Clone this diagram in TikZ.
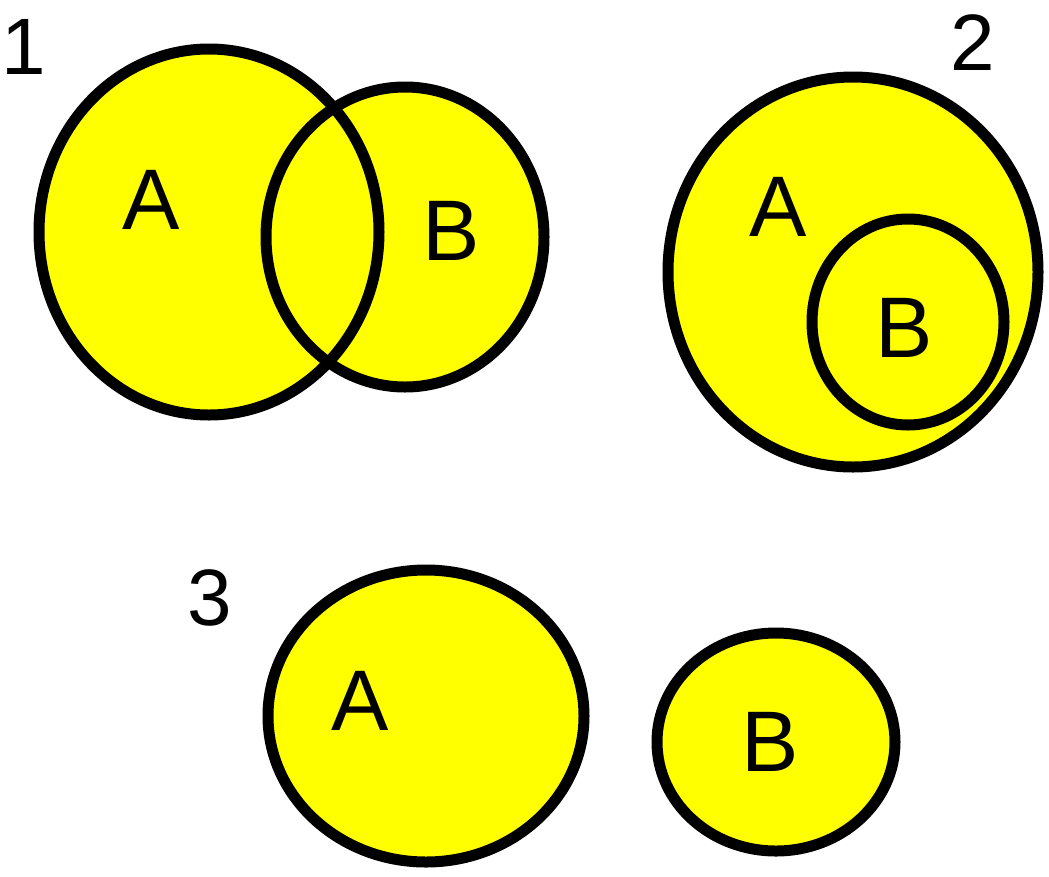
\documentclass[tikz,border=0pt]{standalone}
\usepackage{fontspec}
\setmainfont{Liberation Sans}
\begin{document}
\begin{tikzpicture}[x=1pt,y=-1pt,
  setfill/.style={fill={rgb,255:red,255;green,255;blue,0}},
  setline/.style={draw=black,line width=11pt},
  lbl/.style={inner sep=0pt,font=\fontsize{86}{86}\selectfont},
  num/.style={inner sep=0pt,font=\fontsize{80}{80}\selectfont}]
\useasboundingbox[fill=white] (0,0) rectangle (1049,876);
% Diagram 1
\fill[setfill] (209,232) ellipse [x radius=170, y radius=183];
\fill[setfill] (405,237) ellipse [x radius=139, y radius=150];
\draw[setline] (209,232) ellipse [x radius=170, y radius=183];
\draw[setline] (405,237) ellipse [x radius=139, y radius=150];
\node[num] (n1) at (24,47) {1};
\node[lbl] (a1) at (151,200) {A};
\node[lbl] (b1) at (451,231) {B};
% Diagram 2
\fill[setfill] (853,272) ellipse [x radius=185, y radius=195];
\draw[setline] (853,272) ellipse [x radius=185, y radius=195];
\fill[setfill] (908,322) ellipse [x radius=96, y radius=103];
\draw[setline] (908,322) ellipse [x radius=96, y radius=103];
\node[num] (n2) at (973,43) {2};
\node[lbl] (a2) at (778,207) {A};
\node[lbl] (b2) at (904,328) {B};
% Diagram 3
\fill[setfill] (426,716) ellipse [x radius=158, y radius=146];
\draw[setline] (426,716) ellipse [x radius=158, y radius=146];
\fill[setfill] (776,742) ellipse [x radius=119, y radius=109];
\draw[setline] (776,742) ellipse [x radius=119, y radius=109];
\node[num] (n3) at (210,598) {3};
\node[lbl] (a3) at (360,701) {A};
\node[lbl] (b3) at (770,742) {B};
\end{tikzpicture}
\end{document}
